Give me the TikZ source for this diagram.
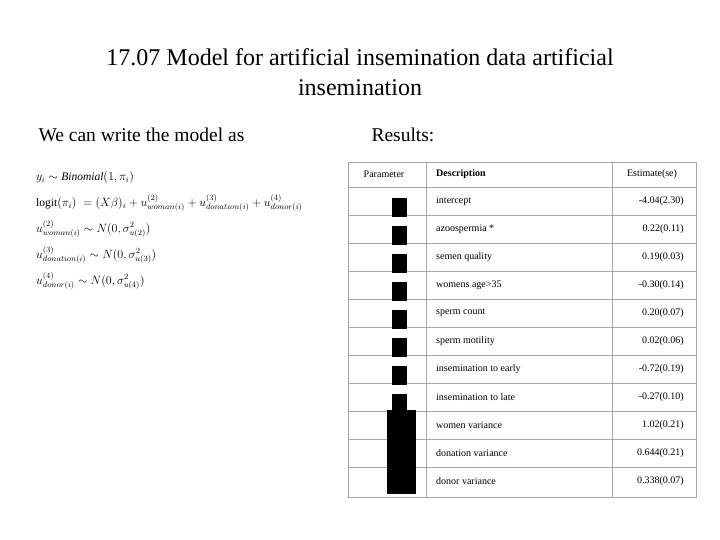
\documentclass[tikz,border=0pt]{standalone}
\usepackage{fontspec}
\setmainfont{Liberation Serif}
\usetikzlibrary{positioning}
\tikzstyle{cell}=[font=\fontsize{10}{12}\selectfont,inner sep=0pt]
\tikzstyle{grid}=[draw=gray!70,line width=0.8pt]
\tikzstyle{eqn}=[anchor=west,font=\fontsize{11.5}{13}\selectfont,inner sep=0pt]

\begin{document}
\begin{tikzpicture}[x=1pt,y=-1pt]
	\useasboundingbox (0,0) rectangle (720,540);
	\node [font=\fontsize{24}{30}\selectfont,align=center] (title) at (360,72) {17.07 Model for artificial insemination data artificial\\insemination};
	\node [anchor=west,font=\fontsize{19.5}{22}\selectfont] (left) at (35,135) {We can write the model as};
	\node [anchor=west,font=\fontsize{19.5}{22}\selectfont] (right) at (368,135) {Results:};
	% model
	\node [eqn] (e1) at (36,178) {$y_i \sim \mathit{Binomial}(1,\pi_i)$};
	\node [eqn] (e2) at (36,203) {$\mathrm{logit}(\pi_i)\;=(X\beta)_i+u^{(2)}_{woman(i)}+u^{(3)}_{donation(i)}+u^{(4)}_{donor(i)}$};
	\node [eqn] (e3) at (36,229) {$u^{(2)}_{woman(i)}\sim N(0,\sigma^2_{u(2)})$};
	\node [eqn] (e4) at (36,255) {$u^{(3)}_{donation(i)}\sim N(0,\sigma^2_{u(3)})$};
	\node [eqn] (e5) at (36,281) {$u^{(4)}_{donor(i)}\sim N(0,\sigma^2_{u(4)})$};
	% table
	\draw [grid] (348,162) rectangle (696,497);
	\draw [grid] (426,162) -- (426,497);
	\draw [grid] (612,162) -- (612,497);
	\foreach \y in {187,215,...,467} \draw [grid] (348,\y) -- (696,\y);
	\node [cell] (hp) at (384,174) {Parameter};
	\node [cell,anchor=west] (hd) at (436,174) {\textbf{Description}};
	\node [cell] (he) at (652,174) {Estimate(se)};
	\foreach \d/\e [count=\i] in {intercept/-4.04(2.30),azoospermia */0.22(0.11),semen quality/0.19(0.03),womens age>35/-0.30(0.14),sperm count/0.20(0.07),sperm motility/0.02(0.06),insemination to early/-0.72(0.19),insemination to late/-0.27(0.10),women variance/1.02(0.21),donation variance/0.644(0.21),donor variance/0.338(0.07)}{
		\pgfmathsetmacro{\yy}{187+28*(\i-1)}
		\node [cell,anchor=west] (d\i) at (436,\yy+14) {\d};
		\node [cell,anchor=east] (v\i) at (684,\yy+14) {\e};
		\ifnum\i<9
			\fill (392,\yy+11) rectangle (407,\yy+30);
		\else
			\fill (387,\yy-1) rectangle (416,\yy+27);
		\fi
	}
\end{tikzpicture}
\end{document}
